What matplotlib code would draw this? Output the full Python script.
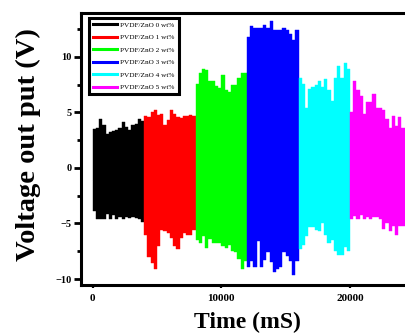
import numpy as np
import matplotlib
matplotlib.use("Agg")
import matplotlib.pyplot as plt
from matplotlib.lines import Line2D

# Output voltage envelopes (peak high / peak low) per 250 ms window
bin_ms = 250
seg_start = [0, 4000, 8000, 12000, 16000, 20000]
labels = ["PVDF/ZnO 0 wt%", "PVDF/ZnO 1 wt%", "PVDF/ZnO 2 wt%",
          "PVDF/ZnO 3 wt%", "PVDF/ZnO 4 wt%", "PVDF/ZnO 5 wt%"]
colors = ["#000000", "#ff0000", "#00ff00", "#0000ff", "#00ffff", "#ff00ff"]

black_hi = [3.5, 3.6, 4.4, 3.9, 3.1, 3.2, 3.3, 3.4, 3.6, 4.1, 3.7, 3.4, 3.9, 4.0, 4.4, 4.2]
black_lo = [-3.9, -4.6, -4.6, -4.6, -4.1, -4.6, -4.2, -4.6, -4.4, -4.6, -4.4, -4.5, -4.4, -4.5, -4.6, -4.9]
red_hi = [4.7, 4.6, 5.0, 5.2, 4.8, 4.9, 3.9, 4.3, 5.2, 4.9, 4.6, 4.5, 4.7, 4.7, 4.8, 4.7]
red_lo = [-6.0, -8.0, -8.6, -9.1, -7.0, -5.6, -5.7, -5.9, -6.3, -7.0, -7.3, -6.3, -5.9, -6.0, -6.0, -5.6]
green_hi = [7.6, 8.6, 8.9, 8.8, 7.8, 7.8, 7.4, 7.2, 8.4, 7.0, 6.8, 7.5, 7.5, 8.1, 8.6, 8.6]
green_lo = [-6.5, -6.8, -6.1, -7.2, -6.4, -6.8, -6.8, -6.8, -7.0, -7.2, -6.9, -7.5, -7.6, -8.2, -9.1, -8.4]
blue_hi = [11.8, 12.8, 12.6, 12.6, 12.6, 12.9, 12.6, 13.2, 12.4, 12.4, 12.4, 12.6, 12.4, 12.1, 11.5, 12.4]
blue_lo = [-8.9, -8.4, -8.9, -6.6, -8.9, -8.3, -7.6, -8.5, -9.4, -9.1, -8.9, -7.6, -7.9, -8.4, -9.6, -8.4]
cyan_hi = [8.1, 7.6, 5.4, 7.1, 7.3, 7.5, 7.8, 7.3, 8.0, 7.0, 6.0, 8.1, 9.2, 8.1, 9.5, 8.9]
cyan_lo = [-7.3, -6.9, -6.1, -5.3, -5.3, -5.6, -5.7, -5.0, -6.0, -6.8, -6.5, -7.5, -7.8, -7.8, -7.1, -7.5]
magenta_hi = [5.0, 7.8, 7.0, 6.5, 4.9, 5.9, 5.9, 6.7, 5.4, 5.4, 5.2, 4.4, 3.6, 4.7, 3.8, 4.6, 3.6]
magenta_lo = [-4.6, -4.3, -4.6, -4.2, -4.6, -4.4, -4.6, -4.4, -4.4, -4.6, -5.5, -5.0, -5.7, -5.2, -6.0, -5.2, -5.2]

highs = [black_hi, red_hi, green_hi, blue_hi, cyan_hi, magenta_hi]
lows = [black_lo, red_lo, green_lo, blue_lo, cyan_lo, magenta_lo]

serif = ["Liberation Serif", "DejaVu Serif"]
plt.rcParams["font.family"] = serif

W, H = 406, 336
fig = plt.figure(figsize=(W / 100, H / 100), dpi=100)
ax_l, ax_r, ax_t, ax_b = 81, 410, 13, 285
ax = fig.add_axes([ax_l / W, 1 - ax_b / H, (ax_r - ax_l) / W, (ax_b - ax_t) / H])

for t0, hi, lo, c in zip(seg_start, highs, lows, colors):
    n = len(hi)
    edges = t0 + bin_ms * np.arange(n + 1)
    ax.fill_between(edges, list(lo) + [lo[-1]], list(hi) + [hi[-1]],
                    step="post", color=c, linewidth=0.3, edgecolor=c)

ax.set_xlim(-914, 24670)
ax.set_ylim(-10.54, 13.96)
ax.set_xticks([0, 10000, 20000])
ax.set_yticks([-10, -5, 0, 5, 10])
ax.set_yticks(np.arange(-10, 14, 2.5), minor=True)

for s in ax.spines.values():
    s.set_linewidth(2.2)
ax.tick_params(axis="y", which="major", length=5, width=2.0, labelsize=7.5, pad=2)
ax.tick_params(axis="y", which="minor", length=3, width=2.0)
ax.tick_params(axis="x", which="major", length=2.5, width=1.6, labelsize=8, pad=4)
for lab in ax.get_xticklabels() + ax.get_yticklabels():
    lab.set_fontweight("bold")

ax.set_ylabel("Voltage out put (V)", fontsize=20.5, fontweight="bold")
ax.yaxis.set_label_coords(-0.122, 0.515)
ax.set_xlabel("Time (mS)", fontsize=17, fontweight="bold")
ax.xaxis.set_label_coords(0.505, -0.100)

handles = [Line2D([0], [0], color=c, lw=2.2) for c in colors]
leg = ax.legend(handles, labels, loc="upper left",
                bbox_to_anchor=((89 - ax_l) / (ax_r - ax_l), 1 - (18 - ax_t) / (ax_b - ax_t)),
                borderaxespad=0, fontsize=5.2, handlelength=3.3, handletextpad=0.5,
                labelspacing=0.88, borderpad=0.55, fancybox=False, framealpha=1,
                edgecolor="black")
leg.get_frame().set_linewidth(2.2)

fig.savefig("out.png", dpi=100)
